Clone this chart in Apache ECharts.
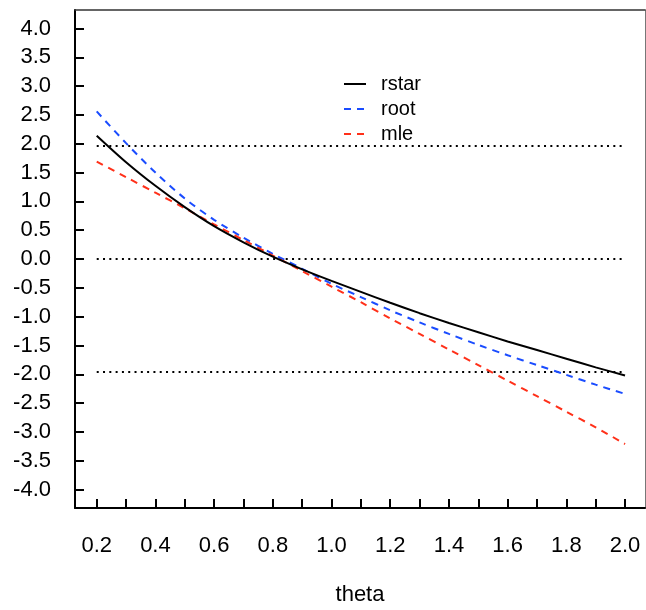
<!DOCTYPE html>
<html>
<head>
<meta charset="utf-8">
<script src="https://cdn.jsdelivr.net/npm/echarts@6/dist/echarts.min.js"></script>
<style>
html,body{margin:0;padding:0;background:#fff;}
#chart{width:646px;height:610px;}
</style>
</head>
<body>
<div id="chart"></div>
<script>
// ---- data ----
var theta = [0.2, 0.3, 0.4, 0.5, 0.6, 0.7, 0.8, 0.9, 1.0, 1.1, 1.2, 1.3, 1.4, 1.5, 1.6, 1.7, 1.8, 1.9, 2.0];
var rstar = [2.14, 1.68, 1.27, 0.90, 0.57, 0.29, 0.04, -0.18, -0.38, -0.57, -0.76, -0.94, -1.11, -1.27, -1.43, -1.58, -1.73, -1.88, -2.02];
var root  = [2.56, 2.01, 1.50, 1.05, 0.68, 0.37, 0.09, -0.17, -0.43, -0.66, -0.89, -1.10, -1.30, -1.49, -1.67, -1.84, -2.01, -2.18, -2.34];
var mle   = [1.69, 1.42, 1.15, 0.88, 0.60, 0.33, 0.06, -0.21, -0.48, -0.75, -1.03, -1.30, -1.57, -1.84, -2.11, -2.38, -2.65, -2.92, -3.21];
var refLevels = [1.96, 0, -1.96];
var refRange = [0.2, 2.0];
var xTicks = [0.2, 0.3, 0.4, 0.5, 0.6, 0.7, 0.8, 0.9, 1.0, 1.1, 1.2, 1.3, 1.4, 1.5, 1.6, 1.7, 1.8, 1.9, 2.0];
var xLabels = [0.2, 0.4, 0.6, 0.8, 1.0, 1.2, 1.4, 1.6, 1.8, 2.0];
var yTicks = [-4.0, -3.5, -3.0, -2.5, -2.0, -1.5, -1.0, -0.5, 0.0, 0.5, 1.0, 1.5, 2.0, 2.5, 3.0, 3.5, 4.0];
var seriesNames = ['rstar', 'root', 'mle'];
var xTitle = 'theta';

function pairs(xs, ys) { return xs.map(function (x, i) { return [x, ys[i]]; }); }

var FONT = 'Liberation Sans, Arial, Helvetica, sans-serif';
var chart = echarts.init(document.getElementById('chart'), null, {renderer: 'canvas'});

var series = [
  {name: seriesNames[0], type: 'line', data: pairs(theta, rstar), symbol: 'none', smooth: 0.3,
   lineStyle: {color: '#000000', width: 2}, itemStyle: {color: '#000000'}, z: 5},
  {name: seriesNames[1], type: 'line', data: pairs(theta, root), symbol: 'none', smooth: 0.3,
   lineStyle: {color: '#1a4cff', width: 2, type: [7, 6]}, itemStyle: {color: '#1a4cff'}, z: 4},
  {name: seriesNames[2], type: 'line', data: pairs(theta, mle), symbol: 'none', smooth: 0.3,
   lineStyle: {color: '#ff3019', width: 2, type: [7, 6]}, itemStyle: {color: '#ff3019'}, z: 4}
];
refLevels.forEach(function (lv) {
  series.push({type: 'line', data: refRange.map(function (x) { return [x, lv]; }), symbol: 'none',
    lineStyle: {color: '#000', width: 2, type: [2, 4.3], cap: 'butt'}, silent: true, z: 2});
});

chart.setOption({
  animation: false,
  backgroundColor: '#ffffff',
  grid: {left: 75, right: 1, top: 10, bottom: 102, containLabel: false, outerBoundsMode: 'none'},
  legend: {
    data: seriesNames, orient: 'vertical', left: 338, top: 69,
    itemWidth: 22, itemHeight: 18, itemGap: 5,
    itemStyle: {opacity: 0},
    lineStyle: {width: 2},
    textStyle: {fontFamily: FONT, fontSize: 20, color: '#000', padding: [0, 0, 0, 10]}
  },
  xAxis: [{
    type: 'value', min: 0.126, max: 2.068,
    name: xTitle, nameLocation: 'middle', nameGap: 76,
    nameTextStyle: {fontFamily: FONT, fontSize: 22, color: '#000'},
    axisLine: {show: true, onZero: false, lineStyle: {color: '#000', width: 2}},
    axisTick: {show: true, inside: true, length: 9, customValues: xTicks, lineStyle: {color: '#000', width: 2}},
    axisLabel: {show: true, customValues: xLabels, margin: 27, fontFamily: FONT, fontSize: 22, color: '#000',
      formatter: function (v) { return Number(v).toFixed(1); }},
    splitLine: {show: false}
  }, {
    type: 'value', position: 'top', min: 0.126, max: 2.068,
    axisLine: {show: true, onZero: false, lineStyle: {color: '#333', width: 1.5}},
    axisTick: {show: false}, axisLabel: {show: false}, splitLine: {show: false}
  }],
  yAxis: [{
    type: 'value', min: -4.32, max: 4.32,
    axisLine: {show: true, onZero: false, lineStyle: {color: '#000', width: 2}},
    axisTick: {show: true, inside: true, length: 9, customValues: yTicks, lineStyle: {color: '#000', width: 2}},
    axisLabel: {show: true, customValues: yTicks, margin: 24, fontFamily: FONT, fontSize: 22, color: '#000',
      formatter: function (v) { return Number(v).toFixed(1); }},
    splitLine: {show: false}
  }, {
    type: 'value', position: 'right', min: -4.32, max: 4.32,
    axisLine: {show: true, onZero: false, lineStyle: {color: '#777', width: 1}},
    axisTick: {show: false}, axisLabel: {show: false}, splitLine: {show: false}
  }],
  series: series
});
</script>
</body>
</html>
